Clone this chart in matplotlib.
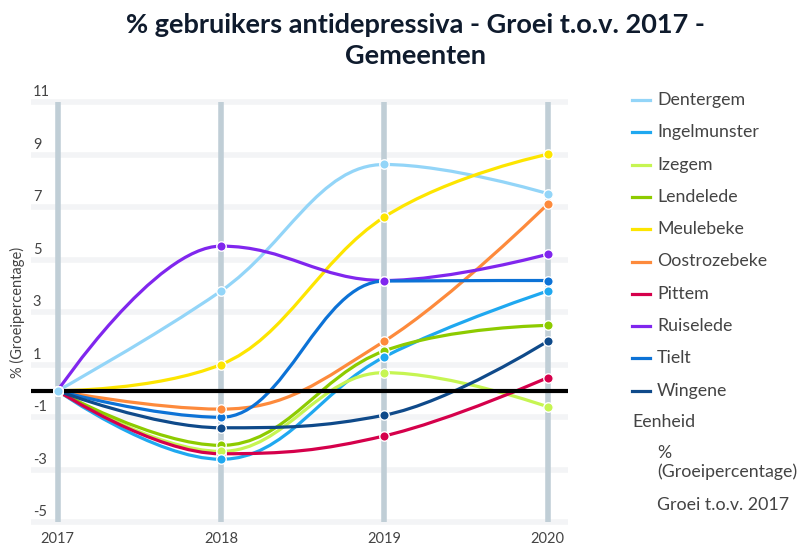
import matplotlib
matplotlib.use("Agg")
from matplotlib import pyplot as plt
from matplotlib.path import Path
from matplotlib.patches import PathPatch
from matplotlib.lines import Line2D
import matplotlib.transforms as mtransforms

plt.rcParams['font.family'] = ['Lato', 'DejaVu Sans']

# data
jaren = [2017, 2018, 2019, 2020]
gemeenten = ["Dentergem", "Ingelmunster", "Izegem", "Lendelede", "Meulebeke",
             "Oostrozebeke", "Pittem", "Ruiselede", "Tielt", "Wingene"]
dentergem = [0, 3.80, 8.62, 7.51]
ingelmunster = [0, -2.61, 1.29, 3.80]
izegem = [0, -2.31, 0.69, -0.61]
lendelede = [0, -2.08, 1.52, 2.49]
meulebeke = [0, 1.00, 6.62, 9.01]
oostrozebeke = [0, -0.70, 1.89, 7.11]
pittem = [0, -2.40, -1.72, 0.50]
ruiselede = [0, 5.51, 4.20, 5.20]
tielt = [0, -1.01, 4.18, 4.20]
wingene = [0, -1.41, -0.93, 1.89]
reeksen = [dentergem, ingelmunster, izegem, lendelede, meulebeke,
           oostrozebeke, pittem, ruiselede, tielt, wingene]
kleuren = ["#93d5f8", "#1fa8f0", "#c6f552", "#8dcb00", "#fde500",
           "#fd8a3c", "#d5004b", "#8026ee", "#0c72d6", "#0f4a8a"]
yticks = [11, 9, 7, 5, 3, 1, -1, -3, -5]


def spline_pad(xs, ys):
    # bezier controlepunten zoals een highcharts spline
    s = 1.5
    d = s + 1
    n = len(xs)
    lc = [None] * n
    rc = [None] * n
    for i in range(n):
        x, y = xs[i], ys[i]
        if i == 0 or i == n - 1:
            lc[i] = (x, y)
            rc[i] = (x, y)
            continue
        lx, ly = xs[i - 1], ys[i - 1]
        nx, ny = xs[i + 1], ys[i + 1]
        lcx = (s * x + lx) / d
        lcy = (s * y + ly) / d
        rcx = (s * x + nx) / d
        rcy = (s * y + ny) / d
        joint = ((rcy - lcy) * (rcx - x)) / (rcx - lcx) + y - rcy
        lcy += joint
        rcy += joint
        if lcy > ly and lcy > y:
            lcy = max(ly, y)
            rcy = 2 * y - lcy
        elif lcy < ly and lcy < y:
            lcy = min(ly, y)
            rcy = 2 * y - lcy
        if rcy > ny and rcy > y:
            rcy = max(ny, y)
            lcy = 2 * y - rcy
        elif rcy < ny and rcy < y:
            rcy = min(ny, y)
            lcy = 2 * y - rcy
        lc[i] = (lcx, lcy)
        rc[i] = (rcx, rcy)
    verts = [(xs[0], ys[0])]
    codes = [Path.MOVETO]
    for i in range(1, n):
        verts += [rc[i - 1], lc[i], (xs[i], ys[i])]
        codes += [Path.CURVE4] * 3
    return Path(verts, codes)


fig = plt.figure(figsize=(8.05, 5.47), dpi=100)
ax = fig.add_axes([0.0381, 0.0361, 0.6675, 0.787])
ax.set_xlim(2017 - 0.165, 2020 + 0.124)
ax.set_ylim(-5.2, 11.2)
for sp in ax.spines.values():
    sp.set_visible(False)

# rasterlijnen
ax.hlines(yticks, 2017 - 0.165, 2020 + 0.124, colors="#f3f4f6", linewidth=4, zorder=0)
ax.vlines(jaren, -5, 11, colors="#c0ced6", linewidth=4, zorder=1)
ax.axhline(0, color="black", linewidth=3, zorder=4)

for reeks, kleur in zip(reeksen, kleuren):
    ax.add_patch(PathPatch(spline_pad(jaren, reeks), facecolor="none",
                           edgecolor=kleur, linewidth=2.3, zorder=3,
                           capstyle="round"))
for reeks, kleur in reversed(list(zip(reeksen, kleuren))):
    ax.plot(jaren, reeks, linestyle="none", marker="o", markersize=6.8,
            markerfacecolor=kleur, markeredgecolor="white",
            markeredgewidth=1, zorder=5)

ax.set_xticks(jaren)
ax.set_xticklabels([str(j) for j in jaren], fontsize=10.5, color="#444444")
ax.tick_params(axis="x", length=0, pad=3.5)
ax.set_yticks([])

trans = mtransforms.blended_transform_factory(ax.transAxes, ax.transData)
trans = mtransforms.offset_copy(trans, fig=fig, x=0, y=10, units="dots")
for v in yticks:
    ax.text(0.004, v, str(v), transform=trans, ha="left", va="center",
            fontsize=10.5, color="#444444")

fig.text(17 / 805, 1 - 312 / 547, "% (Groeipercentage)", rotation=90,
         ha="center", va="center", fontsize=10.5, color="#444444")

fig.text(415 / 805, 1 - 25 / 547, "% gebruikers antidepressiva - Groei t.o.v. 2017 -",
         ha="center", va="center", fontsize=19.5, fontweight="bold", color="#0f1b2d")
fig.text(415 / 805, 1 - 56 / 547, "Gemeenten",
         ha="center", va="center", fontsize=19.5, fontweight="bold", color="#0f1b2d")

# legenda
lfs = 12.8
for i, (naam, kleur) in enumerate(zip(gemeenten, kleuren)):
    yy = 1 - (100 + i * 32.3) / 547
    fig.add_artist(Line2D([632 / 805, 650 / 805], [yy, yy], color=kleur,
                          linewidth=2.3, transform=fig.transFigure))
    fig.text(657 / 805, yy, naam, ha="left", va="center", fontsize=lfs, color="#444444")
fig.text(632 / 805, 1 - 422 / 547, "Eenheid", ha="left", va="center",
         fontsize=lfs, color="#444444")
fig.text(657 / 805, 1 - 453 / 547, "%", ha="left", va="center",
         fontsize=lfs, color="#444444")
fig.text(657 / 805, 1 - 472 / 547, "(Groeipercentage)", ha="left", va="center",
         fontsize=lfs, color="#444444")
fig.text(657 / 805, 1 - 505 / 547, "Groei t.o.v. 2017", ha="left", va="center",
         fontsize=lfs, color="#444444")

fig.savefig("out.png", dpi=100)
